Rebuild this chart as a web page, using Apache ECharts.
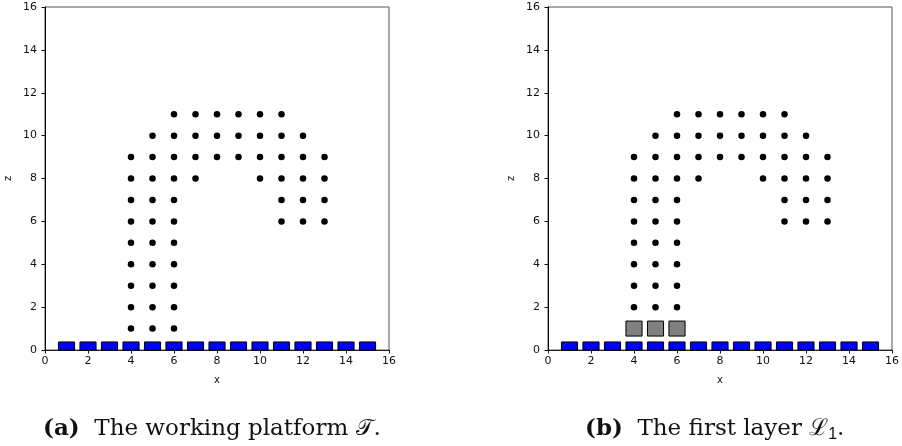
<!DOCTYPE html>
<html><head><meta charset="utf-8">
<script src="https://cdn.jsdelivr.net/npm/echarts@6/dist/echarts.min.js"></script>
<style>html,body{margin:0;padding:0;background:#fff}#c{width:902px;height:446px}</style>
</head><body><div id="c"></div>
<script>
// ---- data ----
const rowZ = [11, 10, 9, 8, 7, 6, 5, 4, 3, 2, 1];
const rowX = [
  [6, 7, 8, 9, 10, 11],
  [5, 6, 7, 8, 9, 10, 11, 12],
  [4, 5, 6, 7, 8, 9, 10, 11, 12, 13],
  [4, 5, 6, 7, 10, 11, 12, 13],
  [4, 5, 6, 11, 12, 13],
  [4, 5, 6, 11, 12, 13],
  [4, 5, 6],
  [4, 5, 6],
  [4, 5, 6],
  [4, 5, 6],
  [4, 5, 6]
];
const platformX = [1, 2, 3, 4, 5, 6, 7, 8, 9, 10, 11, 12, 13, 14, 15];
const platformZ = [0, 0.375];          // bottom, top of each platform block
const layer1X = [4, 5, 6];
const layer1Z = [0.65, 1.35];          // bottom, top of each layer block
const layer1Level = 1;
const axisMin = 0, axisMax = 16, axisStep = 2;

// ---- build ----
function points(skipLevel) {
  const out = [];
  rowZ.forEach((z, i) => { if (z !== skipLevel) rowX[i].forEach(x => out.push([x, z])); });
  return out;
}
const blockW = 0.75;
function rectItem(fill) {
  return function (params, api) {
    const x = api.value(0), z0 = api.value(1), z1 = api.value(2);
    const a = api.coord([x - blockW / 2, z1]);
    const b = api.coord([x + blockW / 2, z0]);
    return {
      type: 'rect',
      shape: { x: a[0], y: a[1], width: b[0] - a[0], height: b[1] - a[1] },
      style: { fill: fill, stroke: '#000', lineWidth: 1 }
    };
  };
}
const tickFont = { fontFamily: 'DejaVu Sans', fontSize: 11, color: '#111' };
function xAx(i) {
  return {
    gridIndex: i, type: 'value', min: axisMin, max: axisMax, interval: axisStep,
    name: 'x', nameLocation: 'middle', nameGap: 25,
    nameTextStyle: { fontFamily: 'DejaVu Sans', fontSize: 10, color: '#111' },
    axisLine: { onZero: false, lineStyle: { color: '#222', width: 1 } },
    axisTick: { show: true, length: 3.5, lineStyle: { color: '#111' } },
    axisLabel: Object.assign({ margin: 6 }, tickFont),
    splitLine: { show: false }
  };
}
function yAx(i) {
  return {
    gridIndex: i, type: 'value', min: axisMin, max: axisMax, interval: axisStep,
    name: 'z', nameLocation: 'middle', nameGap: 32, nameRotate: 90,
    nameTextStyle: { fontFamily: 'DejaVu Sans', fontSize: 10, color: '#111' },
    axisLine: { onZero: false, lineStyle: { color: '#000', width: 1 } },
    axisTick: { show: true, length: 3.5, lineStyle: { color: '#111' } },
    axisLabel: Object.assign({ margin: 8 }, tickFont),
    splitLine: { show: false }
  };
}
const platformData = platformX.map(x => [x, platformZ[0], platformZ[1]]);
const layerData = layer1X.map(x => [x, layer1Z[0], layer1Z[1]]);
const dotStyle = { color: '#000', opacity: 1 };

const chart = echarts.init(document.getElementById('c'), null, { renderer: 'canvas' });
chart.setOption({
  animation: false,
  backgroundColor: '#fff',
  grid: [
    { left: 45, top: 7, width: 344, height: 343, show: true, borderColor: '#555', borderWidth: 1, backgroundColor: 'transparent' },
    { left: 548, top: 7, width: 344, height: 343, show: true, borderColor: '#555', borderWidth: 1, backgroundColor: 'transparent' }
  ],
  xAxis: [xAx(0), xAx(1)],
  yAxis: [yAx(0), yAx(1)],
  series: [
    { type: 'scatter', xAxisIndex: 0, yAxisIndex: 0, data: points(null), symbol: 'circle', symbolSize: 6.5, itemStyle: dotStyle, silent: true },
    { type: 'custom', xAxisIndex: 0, yAxisIndex: 0, data: platformData, renderItem: rectItem('#0000ff'), clip: false },
    { type: 'scatter', xAxisIndex: 1, yAxisIndex: 1, data: points(layer1Level), symbol: 'circle', symbolSize: 6.5, itemStyle: dotStyle, silent: true },
    { type: 'custom', xAxisIndex: 1, yAxisIndex: 1, data: platformData, renderItem: rectItem('#0000ff'), clip: false },
    { type: 'custom', xAxisIndex: 1, yAxisIndex: 1, data: layerData, renderItem: rectItem('#808080'), clip: false }
  ],
  graphic: [
    { type: 'text', left: 43, top: 418, style: { text: '{b|(a)}  The working platform 𝒯.', fontFamily: 'DejaVu Serif', fontSize: 23, fill: '#111',
      rich: { b: { fontFamily: 'DejaVu Serif', fontWeight: 'bold', fontSize: 23 } } } },
    { type: 'text', left: 585, top: 418, style: { text: '{b|(b)}  The first layer ℒ{s|1}.', fontFamily: 'DejaVu Serif', fontSize: 23, fill: '#111',
      rich: { b: { fontFamily: 'DejaVu Serif', fontWeight: 'bold', fontSize: 23 }, s: { fontSize: 16, padding: [10, 0, 0, 0] } } } }
  ]
});
</script></body></html>
